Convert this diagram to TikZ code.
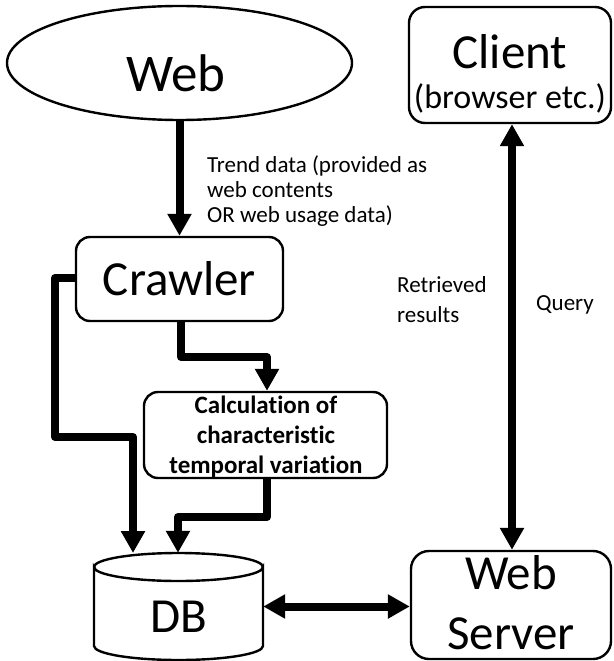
\documentclass[tikz,border=0pt]{standalone}
\usepackage{fontspec}
\setmainfont{Carlito}[Ligatures=NoCommon]
\usetikzlibrary{arrows.meta,shapes.geometric}
\tikzset{
  outline/.style={draw=black, line width=2.4pt},
  roundbox/.style={outline, rectangle, rounded corners=14pt, inner sep=0pt},
  flow/.style={line width=8pt, line join=round,
    -{Triangle[width=23pt,length=22pt]}},
  bothflow/.style={line width=8pt,
    {Triangle[width=23pt,length=22pt]}-{Triangle[width=23pt,length=22pt]}},
  bigtext/.style={font=\fontsize{49}{58}\selectfont, anchor=base, inner sep=0pt},
  smalltext/.style={font=\fontsize{23}{27}\selectfont, anchor=base west, inner sep=0pt},
  boldtext/.style={font=\fontsize{25}{30}\selectfont\bfseries, anchor=base, inner sep=0pt},
}
\begin{document}
\begin{tikzpicture}[x=1pt,y=-1pt]
  \useasboundingbox (0,0) rectangle (613,661);

  % boxes
  \node[outline, ellipse, minimum width=345pt, minimum height=114pt, inner sep=0pt] (web) at (179.5,63) {};
  \node[roundbox, rounded corners=16pt, minimum width=202pt, minimum height=116pt] (client) at (510,65) {};
  \node[roundbox, minimum width=207pt, minimum height=84pt] (crawler) at (179.5,279) {};
  \node[roundbox, minimum width=243pt, minimum height=86pt] (calc) at (265.5,435) {};
  \node[roundbox, rounded corners=18pt, minimum width=200pt, minimum height=108pt] (server) at (511,605) {};

  % database cylinder
  \node[minimum width=169pt, minimum height=107pt, inner sep=0pt] (db) at (178.5,606.5) {};
  \draw[outline, fill=white] (94,567) -- (94,646) arc[start angle=180, end angle=360, x radius=84.5pt, y radius=14pt]
        -- (263,567) arc[start angle=0, end angle=-180, x radius=84.5pt, y radius=14pt] -- cycle;
  \draw[outline] (94,567) arc[start angle=180, end angle=360, x radius=84.5pt, y radius=-14pt];

  % texts in boxes
  \node[bigtext, font=\fontsize{53}{60}\selectfont] (webt) at (176,91) {Web};
  \node[bigtext] (clientt) at (510,68) {Client};
  \node[bigtext, font=\fontsize{34}{40}\selectfont] (browsert) at (510,108) {(browser etc.)};
  \node[bigtext] (crawlert) at (179.5,295) {Crawler};
  \node[boldtext] (calc1) at (266,413) {Calculation of};
  \node[boldtext] (calc2) at (266,443) {characteristic};
  \node[boldtext] (calc3) at (266,473) {temporal variation};
  \node[bigtext] (dbt) at (178.5,632) {DB};
  \node[bigtext] (servert1) at (511,589) {Web};
  \node[bigtext] (servert2) at (511,649) {Server};

  % connector labels
  \node[smalltext] (trend1) at (207,172) {Trend data (provided as};
  \node[smalltext] (trend2) at (207,197) {web contents};
  \node[smalltext] (trend3) at (207,222) {OR web usage data)};
  \node[smalltext] (ret1) at (397,292) {Retrieved};
  \node[smalltext] (ret2) at (397,322) {results};
  \node[smalltext] (query) at (536,310) {Query};

  % routing points
  \coordinate (c1) at (181,357);
  \coordinate (c2) at (267,357);
  \coordinate (l1) at (55,278);
  \coordinate (l2) at (55,437);
  \coordinate (l3) at (133,437);
  \coordinate (l4) at (133,553);
  \coordinate (d1) at (267,517);
  \coordinate (d2) at (178,517);

  % connectors
  \draw[flow] (web.south -| crawler.north) -- (crawler.north);
  \draw[flow] (crawler.south -| c1) -- (c1) -- (c2) -- (calc.north -| c2);
  \draw[flow] (crawler.west |- l1) -- (l1) -- (l2) -- (l3) -- (l4);
  \draw[flow] (calc.south -| d1) -- (d1) -- (d2) -- (db.north -| d2);
  \draw[bothflow] (db.east) -- (server.west |- db.east);
  \draw[bothflow] (client.south -| 512,0) -- (server.north -| 512,0);
\end{tikzpicture}
\end{document}
